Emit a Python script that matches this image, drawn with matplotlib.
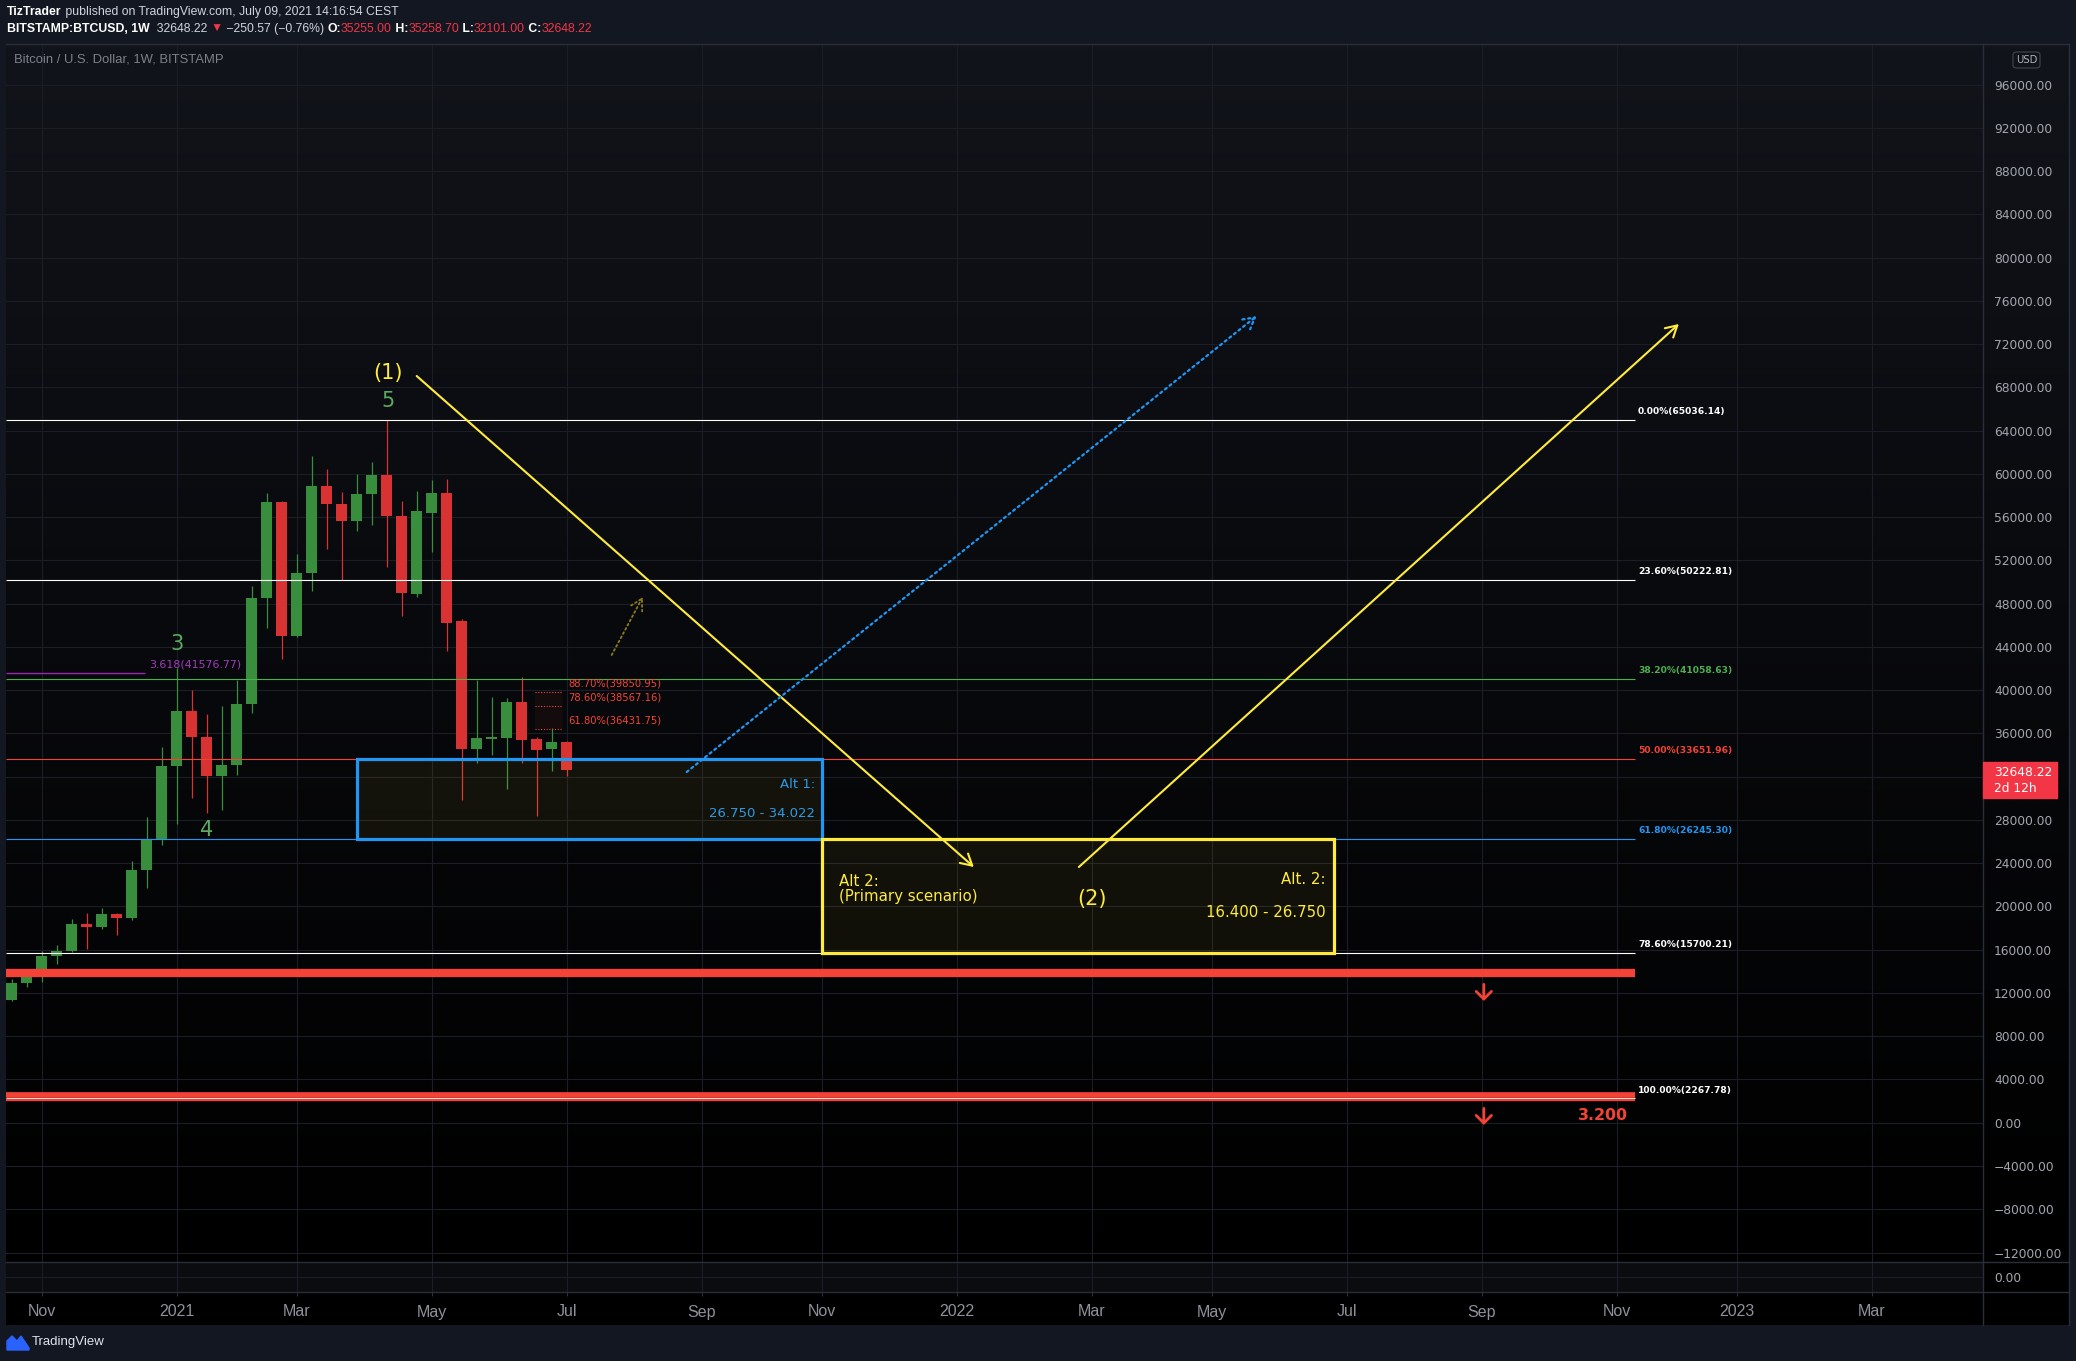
import numpy as np
import pandas as pd
import matplotlib
matplotlib.use("Agg")
import matplotlib.pyplot as plt
import matplotlib.dates as mdates
from matplotlib import font_manager
from matplotlib.lines import Line2D
from matplotlib.patches import Rectangle, FancyBboxPatch, Polygon

W, H = 2076, 1361

# weekly candles, BITSTAMP:BTCUSD
candle_dates = pd.date_range("2020-10-19", periods=38, freq="7D")
opens = [11370, 12940, 13680, 15430, 15900, 18390, 18060, 19310, 18980, 23380,
         26150, 33000, 38080, 35700, 32070, 33090, 38720, 48490, 57390, 45040,
         50800, 58870, 57240, 55670, 58130, 59890, 56130, 48920, 56400, 58220,
         46390, 34570, 35530, 35580, 38910, 35490, 34570, 35255.00]
highs = [13310, 14080, 15900, 16450, 18850, 19400, 19870, 19420, 24210, 28250,
         34720, 42100, 40020, 37800, 38540, 40900, 49630, 58250, 57480, 52580,
         61640, 60500, 58320, 59980, 61090, 65036, 57480, 58410, 59420, 59510,
         46570, 40910, 39370, 39310, 41220, 35670, 36500, 35258.70]
lows = [11300, 12600, 13030, 14700, 15750, 16080, 17930, 17370, 18760, 21750,
        25690, 27600, 30070, 28680, 28930, 32160, 37920, 45780, 42860, 44900,
        49200, 53080, 50210, 54740, 55300, 51420, 46880, 48640, 52760, 43650,
        29880, 33300, 34010, 30870, 33240, 28370, 32530, 32101.00]
closes = [12940, 13680, 15430, 15900, 18390, 18060, 19310, 18980, 23380, 26150,
          33000, 38080, 35700, 32070, 33090, 38720, 48490, 57390, 45040, 50800,
          58870, 57240, 55670, 58130, 59890, 56130, 49010, 56560, 58220, 46240,
          34570, 35580, 35640, 38910, 35400, 34470, 35210, 32648.22]

# fib retracement
fib_pcts = [0.0, 23.6, 38.2, 50.0, 61.8, 78.6, 100.0]
fib_prices = [65036.14, 50222.81, 41058.63, 33651.96, 26245.30, 15700.21, 2267.78]
fib_colors = ["#ffffff", "#ffffff", "#4caf50", "#f44336", "#2196f3", "#ffffff", "#ffffff"]
fib_end = "2022-11-15 12:00"

# small fib extension near the last candles
ext_pcts = [88.7, 78.6, 61.8]
ext_prices = [39850.95, 38567.16, 36431.75]
ext_span = ["2021-06-20", "2021-07-03"]

# wave 3 extension
w3_ratio, w3_price, w3_end = 3.618, 41576.77, "2020-12-20"

# support lines drawn by the author (price, width in pt)
support_prices = [13820, 2580, 2058]
support_widths = [6.0, 4.1, 1.7]
down_arrow_date = "2022-09-06"
down_arrow_tips = [11260, -210]

# target zones
alt1_zone = ["2021-03-29", "2021-11-01", 26245.30, 33651.96]
alt2_zone = ["2021-11-01", "2022-06-28", 15700.21, 26245.30]

# trend arrows
wave1_dates, wave1_prices = ["2021-04-26", "2022-01-11"], [69060, 23650]
wave2_dates, wave2_prices = ["2022-03-01", "2022-12-06"], [23650, 73870]
alt1_dates, alt1_prices = ["2021-08-30", "2022-05-23"], [32440, 74610]
minor_dates, minor_prices = ["2021-07-26", "2021-08-09 12:00"], [43260, 48620]

# wave labels
wave_text = ["(1)", "5", "3", "4", "(2)"]
wave_dates = ["2021-04-12 12:00", "2021-04-12 12:00", "2021-01-04", "2021-01-18", "2022-03-07"]
wave_prices = [69340, 66770, 44320, 27070, 20720]

# axes
y_ticks = list(range(-12000, 96001, 4000))
last_price = 32648.22
tick_dates = ["2020-11-02", "2021-01-04", "2021-03-01", "2021-05-03", "2021-07-05",
              "2021-09-06", "2021-11-01", "2022-01-03", "2022-03-07", "2022-05-02",
              "2022-07-04", "2022-09-05", "2022-11-07", "2023-01-02", "2023-03-06"]
tick_labels = ["Nov", "2021", "Mar", "May", "Jul", "Sep", "Nov", "2022", "Mar",
               "May", "Jul", "Sep", "Nov", "2023", "Mar"]

GREEN, RED = "#388e3c", "#d83232"
YELLOW, BLUE = "#ffeb3b", "#2196f3"
FRED = "#f44336"
WAVEGREEN = "#5aac60"
OUTER = "#131722"
GRID = "#1b1e26"
BORDER = "#2a2e39"
AXTXT = "#a3a6af"

names = {f.name for f in font_manager.fontManager.ttflist}
NARROW = "Liberation Sans Narrow" if "Liberation Sans Narrow" in names else "Liberation Sans"


def d(s):
    return mdates.date2num(pd.Timestamp(s))


def fx(px):
    return px / W


def fy(py):
    return 1 - py / H


fig = plt.figure(figsize=(W / 100, H / 100), dpi=100, facecolor=OUTER)

# gradient background of chart + price scale
bg = fig.add_axes([fx(6), fy(1325), fx(2069 - 6), (1325 - 44) / H])
grad = np.linspace(0, 1, 256).reshape(-1, 1)
top = np.array([0x12, 0x14, 0x1b]) / 255
cols = (top[None, :] * (1 - grad) ** 1.2)[:, None, :]
bg.imshow(cols, aspect="auto", extent=[0, 1, 0, 1], origin="upper")
bg.axis("off")

ax = fig.add_axes([fx(6), fy(1262), (1983 - 6) / W, (1262 - 44) / H])
ax.set_facecolor("none")
pane = fig.add_axes([fx(6), fy(1292), (1983 - 6) / W, 30 / H], sharex=ax)
pane.set_facecolor("#0b0c10")

x0 = d("2020-10-19")
ax.set_xlim(x0 - 2.66, x0 + 919.94)
ax.set_ylim(-12878, 99764)

# grid + price scale (label hidden behind the last-price tag is left blank)
ax.set_yticks(y_ticks)
ax.set_yticklabels(["" if abs(v - last_price) < 2000 else f"{v:.2f}".replace("-", "\u2212")
                    for v in y_ticks])
ax.set_xticks([d(t) for t in tick_dates])
ax.grid(True, color=GRID, lw=0.8, zorder=0)
ax.tick_params(axis="x", length=0, labelbottom=False)
ax.tick_params(axis="y", length=0, left=False, labelleft=False, right=False,
               labelright=True, pad=7.9, labelsize=8.8, labelcolor=AXTXT)
for s in ax.spines.values():
    s.set_visible(False)

pane.set_ylim(-1, 1)
pane.set_yticks([0])
pane.set_yticklabels(["0.00"])
pane.grid(True, color=GRID, lw=0.8)
pane.tick_params(axis="y", length=0, left=False, labelleft=False, labelright=True,
                 pad=7.9, labelsize=8.8, labelcolor=AXTXT)
pane.set_xticks([d(t) for t in tick_dates])
pane.set_xticklabels(tick_labels)
pane.tick_params(axis="x", length=3, color=BORDER, pad=6, labelsize=11.5,
                 labelcolor="#8f929b")
for lab in pane.get_xticklabels():
    lab.set_family(NARROW)
for s in pane.spines.values():
    s.set_visible(False)

# candles
xd = mdates.date2num(candle_dates)
o, h, l, c = map(np.array, (opens, highs, lows, closes))
colors = np.where(c >= o, GREEN, RED)
ax.vlines(xd, l, h, colors=colors, lw=0.9, zorder=2)
ax.bar(xd, np.maximum(np.abs(c - o), 160), bottom=np.minimum(o, c), width=5.1,
       color=colors, lw=0, zorder=2)

xl = ax.get_xlim()[0]

# fib retracement
ax.hlines(fib_prices, xl, d(fib_end), colors=fib_colors, lw=0.8, zorder=3)
for p, pr, col in zip(fib_pcts, fib_prices, fib_colors):
    ax.annotate(f"{p:.2f}%({pr:.2f})", xy=(d(fib_end), pr), xytext=(2.2, 5.8),
                textcoords="offset points", va="center", ha="left", color=col,
                fontsize=6.6, fontweight="bold", zorder=5)

# support lines
for p, w in zip(support_prices, support_widths):
    ax.hlines(p, xl, d(fib_end), colors=FRED, lw=w, zorder=4)
for tip in down_arrow_tips:
    ax.annotate("", xy=(d(down_arrow_date), tip), xytext=(0, 12),
                textcoords="offset points",
                arrowprops=dict(arrowstyle="->, head_length=0.55, head_width=0.55",
                                color=FRED, lw=2.0, shrinkA=0, shrinkB=0))
ax.annotate("3.200", xy=(d(fib_end), support_prices[2]), xytext=(-5, -11),
            textcoords="offset points", ha="right", va="center", color=FRED,
            fontsize=11.4, fontweight="bold")

# wave 3 extension
ax.hlines(w3_price, xl, d(w3_end), colors="#9c27b0", lw=1.0, zorder=3)
ax.annotate(f"{w3_ratio:.3f}({w3_price:.2f})", xy=(d(w3_end), w3_price),
            xytext=(3.5, 6), textcoords="offset points", va="center", ha="left",
            color="#a33bbd", fontsize=7.9)

# small extension levels
e0, e1 = d(ext_span[0]), d(ext_span[1])
ax.fill_between([e0, e1], ext_prices[2], ext_prices[0], color=FRED, alpha=0.06, lw=0)
ax.hlines(ext_prices, e0, e1, colors=FRED, lw=0.8, linestyles=(0, (1, 1.5)), zorder=3)
for p, pr in zip(ext_pcts, ext_prices):
    ax.annotate(f"{p:.2f}%({pr:.2f})", xy=(e1, pr), xytext=(4.2, 5.8),
                textcoords="offset points", va="center", ha="left", color=FRED,
                fontsize=7.2)

# zones
for zone, edge in ((alt1_zone, BLUE), (alt2_zone, YELLOW)):
    a, b = d(zone[0]), d(zone[1])
    ax.add_patch(Rectangle((a, zone[2]), b - a, zone[3] - zone[2],
                           facecolor=(1, 0.92, 0.23, 0.055), edgecolor=edge,
                           lw=2.3, zorder=4))

a1r = d(alt1_zone[1])
ax.annotate("Alt 1:", xy=(a1r, 31240), xytext=(-4.8, 0), textcoords="offset points",
            ha="right", va="center", color=BLUE, fontsize=9.5)
ax.annotate("26.750 - 34.022", xy=(a1r, 28600), xytext=(-4.8, 0),
            textcoords="offset points", ha="right", va="center", color=BLUE,
            fontsize=9.5)
a2l, a2r = d(alt2_zone[0]), d(alt2_zone[1])
ax.annotate("Alt 2:\n(Primary scenario)", xy=(a2l, 21620), xytext=(12.7, 0),
            textcoords="offset points", ha="left", va="center", color=YELLOW,
            fontsize=10.8, linespacing=1.0)
ax.annotate("Alt. 2:", xy=(a2r, 22450), xytext=(-5.8, 0), textcoords="offset points",
            ha="right", va="center", color=YELLOW, fontsize=10.8)
ax.annotate("16.400 - 26.750", xy=(a2r, 19450), xytext=(-5.8, 0),
            textcoords="offset points", ha="right", va="center", color=YELLOW,
            fontsize=10.8)

# trend arrows
for dd, pp, col, ls, lw in ((wave1_dates, wave1_prices, YELLOW, "-", 1.5),
                            (wave2_dates, wave2_prices, YELLOW, "-", 1.5),
                            (alt1_dates, alt1_prices, BLUE, ":", 1.6),
                            (minor_dates, minor_prices, "#8c7d1e", ":", 1.3)):
    ax.annotate("", xy=(d(dd[1]), pp[1]), xytext=(d(dd[0]), pp[0]),
                arrowprops=dict(arrowstyle="->, head_length=0.8, head_width=0.45",
                                color=col, lw=lw, linestyle=ls, shrinkA=0, shrinkB=0),
                zorder=6)

# wave labels
wave_cols = [YELLOW, WAVEGREEN, WAVEGREEN, WAVEGREEN, YELLOW]
for t, dd, pp, col in zip(wave_text, wave_dates, wave_prices, wave_cols):
    ax.text(d(dd), pp, t, color=col, fontsize=15, ha="center", va="center", zorder=7)

# frame lines
def fline(xs, ys, col=BORDER, lw=1.0):
    fig.add_artist(Line2D([fx(v) for v in xs], [fy(v) for v in ys], color=col,
                          lw=lw, transform=fig.transFigure))

fline([6, 2069], [44, 44])
fline([1983, 1983], [44, 1325])
fline([2069, 2069], [44, 1325])
fline([6, 2069], [1262, 1262])
fline([6, 2069], [1292, 1292])

# current price tag
fig.add_artist(Rectangle((fx(1983), fy(798)), fx(2057 - 1983), 36 / H,
                         transform=fig.transFigure, color="#f23645", zorder=10))
fig.text(fx(1994), fy(772), f"{last_price:.2f}", color="white", fontsize=8.8,
         va="center", zorder=11)
fig.text(fx(1994), fy(789), "2d 12h", color="white", fontsize=8.8, va="center", zorder=11)

# USD box
fig.add_artist(FancyBboxPatch((fx(2013), fy(68)), fx(27), 16 / H,
                              boxstyle="round,pad=0,rounding_size=0.002",
                              transform=fig.transFigure, fc="none", ec="#434651", lw=0.8))
fig.text(fx(2026.5), fy(60), "USD", color="#b2b5be", fontsize=7.2, ha="center", va="center")

# header / legend text
renderer = fig.canvas.get_renderer()


def twidth(s, size, wt, fam):
    t1 = fig.text(0, 0, "x" + s + "x", fontsize=size, fontweight=wt, family=fam)
    t2 = fig.text(0, 0, "xx", fontsize=size, fontweight=wt, family=fam)
    w = t1.get_window_extent(renderer).width - t2.get_window_extent(renderer).width
    t1.remove()
    t2.remove()
    return w


def pieces_line(x, y, pieces, width, fam):
    base = 10
    total = sum(twidth(s, base, wt, fam) for s, _, wt in pieces)
    size = base * width / total
    cur = x
    for s, col, wt in pieces:
        fig.text(fx(cur), fy(y), s, color=col, fontsize=size, fontweight=wt,
                 family=fam, va="center", ha="left")
        cur += twidth(s, size, wt, fam)


HDR = "#d1d4dc"
HRED = "#f23645"
fam = [NARROW, "DejaVu Sans"]
pieces_line(7, 12, [("TizTrader", "white", "bold"),
                    (" published on TradingView.com, July 09, 2021 14:16:54 CEST", HDR, "normal")],
            390, fam)
pieces_line(7, 29, [("BITSTAMP:BTCUSD, 1W", "white", "bold"),
                    ("  32648.22 ", HDR, "normal"), ("\u25bc", HRED, "normal"),
                    (" \u2212250.57 (\u22120.76%) ", HDR, "normal"),
                    ("O:", "white", "bold"), ("35255.00", HRED, "normal"),
                    (" H:", "white", "bold"), ("35258.70", HRED, "normal"),
                    (" L:", "white", "bold"), ("32101.00", HRED, "normal"),
                    (" C:", "white", "bold"), ("32648.22", HRED, "normal")],
            589, fam)
pieces_line(14, 60, [("Bitcoin / U.S. Dollar, 1W, BITSTAMP", "#7d808a", "normal")], 210, fam)

# footer logo
logo = [(7, 1350), (7, 1341), (12, 1336), (17, 1341), (21, 1336), (29, 1348), (29, 1350)]
fig.add_artist(Polygon([(fx(a), fy(b)) for a, b in logo], closed=True,
                       transform=fig.transFigure, color="#2962ff"))
pieces_line(32, 1342, [("TradingView", "#e0e3eb", "normal")], 73, fam)

fig.savefig("out.png", dpi=100, facecolor=OUTER)
